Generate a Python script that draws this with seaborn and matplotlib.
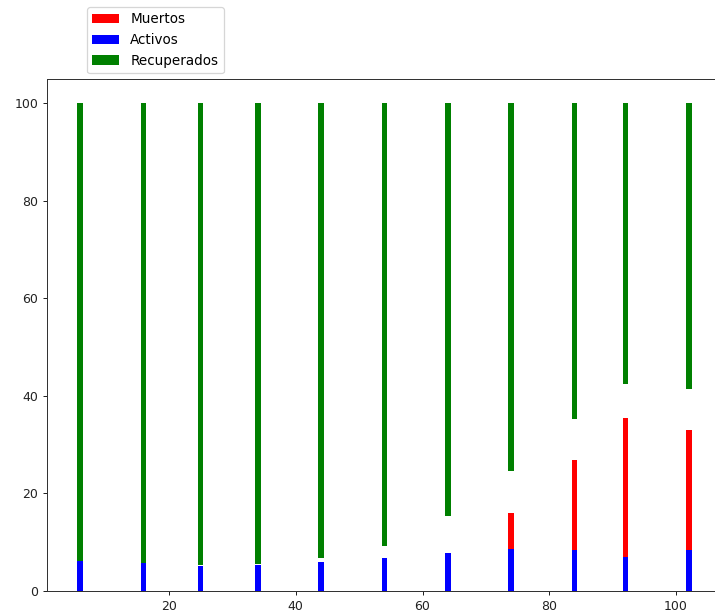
import numpy as np
import pandas as pd
import matplotlib
matplotlib.use("Agg")
import matplotlib.pyplot as plt
import seaborn as sns

# Data
dias = [6, 16, 25, 34, 44, 54, 64, 74, 84, 92, 102]
muertos = [0.1, 0.1, 0.3, 0.2, 0.8, 2.5, 7.6, 16.0, 26.8, 35.4, 33.1]
activos = [6.1, 5.7, 5.1, 5.4, 5.9, 6.7, 7.8, 8.6, 8.4, 7.0, 8.4]
recuperados = [93.8, 94.2, 94.6, 94.4, 93.3, 90.8, 84.6, 75.4, 64.8, 57.6, 58.5]
xticks = [20, 40, 60, 80, 100]
yticks = [0, 20, 40, 60, 80, 100]

df = pd.DataFrame({"dia": dias, "muertos": muertos, "activos": activos,
                   "recuperados": recuperados}).sort_values("dia")
base_rec = (df["muertos"] + df["activos"]).to_numpy()

DPI = 90
fig = plt.figure(figsize=(715 / DPI, 616 / DPI), dpi=DPI)
ax = fig.add_axes([47 / 715, 25 / 616, 675 / 715, 512 / 616])

common = dict(native_scale=True, width=0.11, saturation=1, linewidth=0, ax=ax)
sns.barplot(data=df, x="dia", y="muertos", color="red", label="Muertos", **common)
sns.barplot(data=df, x="dia", y="activos", color="blue", label="Activos", **common)
sns.barplot(data=df, x="dia", y="recuperados", color="green", label="Recuperados",
            bottom=base_rec, **common)

ax.set_xlim(0.76, 107.24)
ax.set_ylim(0, 105)
ax.set_xticks(xticks)
ax.set_yticks(yticks)
ax.set_xlabel("")
ax.set_ylabel("")
ax.tick_params(colors="#222222")
for s in ax.spines.values():
    s.set_color("#333333")

ax.legend(loc="upper left", bbox_to_anchor=(87 / 715, 609 / 616),
          bbox_transform=fig.transFigure, borderaxespad=0, fontsize=10.8)

fig.savefig("out.png", dpi=DPI)
